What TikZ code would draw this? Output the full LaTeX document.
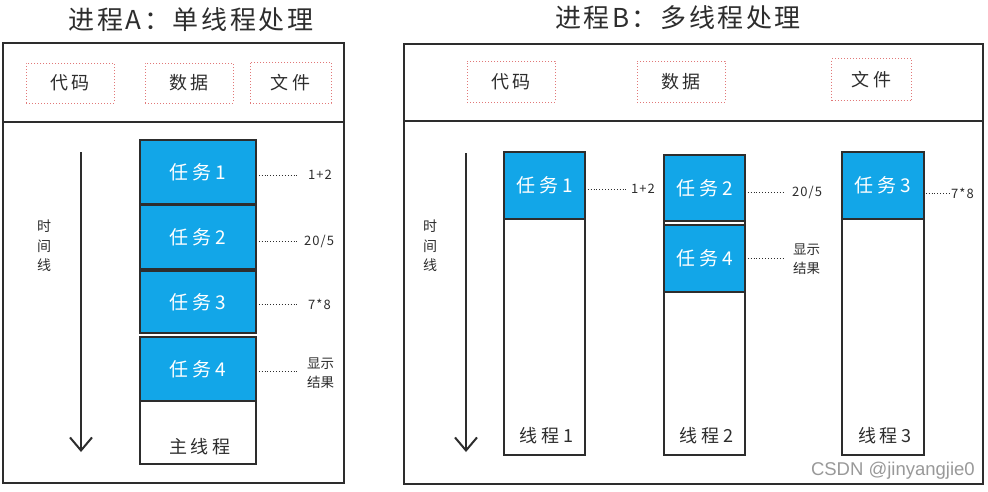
\documentclass[tikz,border=0pt]{standalone}
\usepackage{fontspec}
\setmainfont{Noto Sans CJK SC}
\newfontfamily\titlefont{Noto Sans CJK SC}[LetterSpace=10]
\newfontfamily\taskfont{Noto Sans CJK SC}[LetterSpace=22]
\newfontfamily\notefont{Noto Sans CJK SC}[LetterSpace=8]
\newfontfamily\wmfont{Liberation Sans}
\usetikzlibrary{arrows.meta}
\definecolor{taskblue}{RGB}{18,166,232}
\definecolor{ink}{RGB}{45,45,45}
\definecolor{redbox}{RGB}{225,120,120}
\tikzset{
 panel/.style={draw=ink, line width=2pt, inner sep=0pt},
 divider/.style={draw=ink, line width=2pt},
 resbox/.style={draw=redbox, dotted, line width=1pt, inner sep=0pt, text=ink, font=\taskfont\fontsize{18}{18}\selectfont},
 taskbox/.style={draw=ink, fill=taskblue, line width=1.5pt, text=white, inner sep=0pt, font=\taskfont\fontsize{19}{19}\selectfont},
 threadbox/.style={draw=ink, fill=white, line width=1.5pt, inner sep=0pt},
 lbl/.style={font=\taskfont\fontsize{18}{18}\selectfont, text=ink, inner sep=0pt},
 note/.style={font=\notefont\fontsize{13}{13}\selectfont, text=ink, inner sep=0pt, anchor=west},
 notetwo/.style={font=\fontsize{13.5}{19}\selectfont, text=ink, inner sep=0pt, anchor=west, align=left},
 vlabel/.style={font=\fontsize{14}{19.5}\selectfont, text=ink, inner sep=0pt, align=center},
 dotline/.style={draw=ink, dotted, line width=0.9pt},
 timeline/.style={draw=ink, line width=2.5pt, -{Straight Barb[length=13pt,width=22pt,line width=2pt]}},
 titletext/.style={font=\titlefont\fontsize{26}{26}\selectfont, text=ink, inner sep=0pt},
 wm/.style={font=\wmfont\fontsize{18.5}{18.5}\selectfont, text=gray!80, inner sep=0pt},
}
\begin{document}
\begin{tikzpicture}[x=1pt,y=-1pt]
\useasboundingbox (0,0) rectangle (988,491);
\fill[white] (0,0) rectangle (988,491);

% ---------- Process A ----------
\node[titletext] (titleA) at (191,20) {进程A：单线程处理};
\node[panel, minimum width=341pt, minimum height=440pt] (pA) at (173.5,263) {};
\coordinate (dA0) at (3,122);
\coordinate (dA1) at (344,122);
\draw[divider] (dA0) -- (dA1);

\node[resbox, minimum width=88pt, minimum height=40pt] (codeA) at (70,83) {代码};
\node[resbox, minimum width=88pt, minimum height=40pt] (dataA) at (189,83) {数据};
\node[resbox, minimum width=81pt, minimum height=41pt] (fileA) at (290.5,82.5) {文件};

\coordinate (tlA0) at (81,152);
\coordinate (tlA1) at (81,452);
\draw[timeline] (tlA0) -- (tlA1);
\node[vlabel] (vA) at (44,246) {时\\间\\线};

\node[taskbox, minimum width=116pt, minimum height=64pt] (a1) at (198,172) {任务1};
\node[taskbox, minimum width=116pt, minimum height=64pt] (a2) at (198,237) {任务2};
\node[taskbox, minimum width=116pt, minimum height=62pt] (a3) at (198,302) {任务3};
\node[taskbox, minimum width=116pt, minimum height=64pt] (a4) at (198,369) {任务4};
\node[threadbox, minimum width=116pt, minimum height=63pt] (amain) at (198,432.5) {};
\node[lbl] (amainl) at (200,447) {主线程};

\node[note] (na1) at (308,175) {1+2};
\node[note] (na2) at (304,241) {20/5};
\node[note] (na3) at (308,304) {7*8};
\node[notetwo] (na4) at (307,373) {显示\\结果};
\draw[dotline] ([xshift=2pt]a1.east |- na1) -- ([xshift=-10pt]na1.west);
\draw[dotline] ([xshift=2pt]a2.east |- na2) -- ([xshift=-6pt]na2.west);
\draw[dotline] ([xshift=2pt]a3.east |- na3) -- ([xshift=-10pt]na3.west);
\draw[dotline] ([xshift=2pt]a4.east |- 0,371) -- ([xshift=-9pt]na4.west |- 0,371);

% ---------- Process B ----------
\node[titletext] (titleB) at (678,18) {进程B：多线程处理};
\node[panel, minimum width=579pt, minimum height=440pt] (pB) at (693.5,264) {};
\coordinate (dB0) at (404,121);
\coordinate (dB1) at (983,121);
\draw[divider] (dB0) -- (dB1);

\node[resbox, minimum width=88pt, minimum height=41pt] (codeB) at (511,81.5) {代码};
\node[resbox, minimum width=88pt, minimum height=41pt] (dataB) at (681,81.5) {数据};
\node[resbox, minimum width=80pt, minimum height=42pt] (fileB) at (871.5,79.5) {文件};

\coordinate (tlB0) at (466,153);
\coordinate (tlB1) at (466,452);
\draw[timeline] (tlB0) -- (tlB1);
\node[vlabel] (vB) at (430,246) {时\\间\\线};

% threads
\node[threadbox, minimum width=81pt, minimum height=303pt] (th1) at (544.5,303.5) {};
\node[threadbox, minimum width=81pt, minimum height=300pt] (th2) at (704.5,305) {};
\node[threadbox, minimum width=82pt, minimum height=303pt] (th3) at (883,303.5) {};
\node[lbl] (th1l) at (546.5,436) {线程1};
\node[lbl] (th2l) at (706.5,436) {线程2};
\node[lbl] (th3l) at (885,436) {线程3};

\node[taskbox, minimum width=81pt, minimum height=67pt] (b1) at (544.5,185.5) {任务1};
\node[taskbox, minimum width=81pt, minimum height=66pt] (b2) at (704.5,188) {任务2};
\node[taskbox, minimum width=81pt, minimum height=67pt] (b4) at (704.5,258.5) {任务4};
\node[taskbox, minimum width=82pt, minimum height=67pt] (b3) at (883,185.5) {任务3};

\node[note] (nb1) at (631,189) {1+2};
\node[note] (nb2) at (792,192) {20/5};
\node[notetwo] (nb4) at (793,259) {显示\\结果};
\node[note] (nb3) at (951,193) {7*8};
\draw[dotline] ([xshift=2pt]b1.east |- nb1) -- ([xshift=-4pt]nb1.west);
\draw[dotline] ([xshift=2pt]b2.east |- nb2) -- ([xshift=-7pt]nb2.west);
\draw[dotline] ([xshift=2pt]b4.east |- 0,258) -- ([xshift=-8pt]nb4.west |- 0,258);
\draw[dotline] ([xshift=1pt]b3.east |- nb3) -- ([xshift=-1pt]nb3.west);

\node[wm, anchor=east] (wmk) at (975,471) {CSDN @jinyangjie0};
\end{tikzpicture}
\end{document}
